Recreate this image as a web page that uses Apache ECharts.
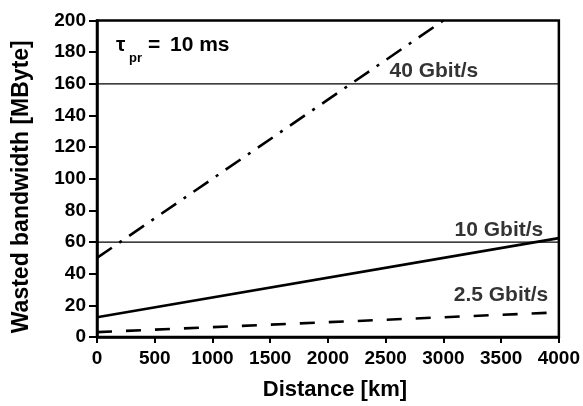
<!DOCTYPE html>
<html>
<head>
<meta charset="utf-8">
<script src="https://cdn.jsdelivr.net/npm/echarts@6/dist/echarts.min.js"></script>
<style>
  html, body { margin: 0; padding: 0; background: #fff; }
  #chart { width: 583px; height: 406px; }
</style>
</head>
<body>
<div id="chart"></div>
<script>
// Wasted bandwidth vs. link distance for three line rates (tau_pr = 10 ms)
const xTicks = [0, 500, 1000, 1500, 2000, 2500, 3000, 3500, 4000];
const yTicks = [0, 20, 40, 60, 80, 100, 120, 140, 160, 180, 200];

const distance40 = [0, 1000, 2000, 3000];
const wasted40 = [50, 100, 150, 200];

const distance10 = [0, 4000];
const wasted10 = [12.5, 62.5];

const distance25 = [0, 4000];
const wasted25 = [3.1, 15.6];

// horizontal reference levels
const refLevels = [60, 160];

// rate labels: [distance, MByte, text, alignment]
const rateLabels = [
  [2533, 161.5, '40 Gbit/s', 'left'],
  [3865, 61, '10 Gbit/s', 'right'],
  [3908, 19.6, '2.5 Gbit/s', 'right']
];

const FONT = '"Liberation Sans", Arial, sans-serif';

const pairs = (xs, ys) => xs.map((x, i) => [x, ys[i]]);

const chart = echarts.init(document.getElementById('chart'), null, { renderer: 'canvas' });

const refSeries = refLevels.map(v => ({
  type: 'line',
  data: [[xTicks[0], v], [xTicks[xTicks.length - 1], v]],
  symbol: 'none',
  silent: true,
  lineStyle: { color: '#000', width: 1.2 },
  z: 2
}));

chart.setOption({
  animation: false,
  backgroundColor: '#fff',
  grid: {
    left: 97, right: 23, top: 20.5, bottom: 64,
    show: true, borderColor: '#000', borderWidth: 2.5, backgroundColor: 'transparent'
  },
  xAxis: {
    type: 'value',
    min: xTicks[0], max: xTicks[xTicks.length - 1], interval: 500,
    name: 'Distance [km]',
    nameLocation: 'middle',
    nameGap: 42,
    nameTextStyle: { fontFamily: FONT, fontWeight: 'bold', fontSize: 22, color: '#000', padding: [0, 0, 0, 14] },
    axisLine: { show: true, lineStyle: { color: '#000', width: 2.5 } },
    axisTick: { show: true, inside: false, length: 6, lineStyle: { color: '#000', width: 2 } },
    axisLabel: {
      margin: 12, fontFamily: FONT, fontWeight: 'bold', fontSize: 19, color: '#000',
      formatter: v => String(v)
    },
    splitLine: { show: false }
  },
  yAxis: {
    type: 'value',
    min: yTicks[0], max: yTicks[yTicks.length - 1], interval: 20,
    name: 'Wasted bandwidth [MByte]',
    nameLocation: 'middle',
    nameRotate: 90,
    nameGap: 64,
    nameTextStyle: { fontFamily: FONT, fontWeight: 'bold', fontSize: 23, color: '#000', padding: [0, 16, 0, 0] },
    axisLine: { show: true, lineStyle: { color: '#000', width: 2.5 } },
    axisTick: { show: true, inside: false, length: 8, lineStyle: { color: '#000', width: 2 } },
    axisLabel: {
      margin: 11, fontFamily: FONT, fontWeight: 'bold', fontSize: 19, color: '#000',
      formatter: v => String(v)
    },
    splitLine: { show: false }
  },
  series: [
    ...refSeries,
    {
      name: '40 Gbit/s',
      type: 'line',
      data: pairs(distance40, wasted40),
      symbol: 'none',
      lineStyle: { color: '#000', width: 2.6, type: [18, 9, 3, 9] },
      z: 3
    },
    {
      name: '10 Gbit/s',
      type: 'line',
      data: pairs(distance10, wasted10),
      symbol: 'none',
      lineStyle: { color: '#000', width: 2.6 },
      z: 3
    },
    {
      name: '2.5 Gbit/s',
      type: 'line',
      data: pairs(distance25, wasted25),
      symbol: 'none',
      lineStyle: { color: '#000', width: 2.6, type: [15, 14] },
      z: 3
    },
    {
      type: 'scatter',
      symbolSize: 0,
      silent: true,
      data: rateLabels.map(r => ({
        value: [r[0], r[1]],
        label: {
          show: true,
          formatter: r[2],
          position: [0, 0],
          align: r[3],
          verticalAlign: 'bottom',
          fontFamily: FONT, fontWeight: 'bold', fontSize: 21, color: '#000'
        }
      })),
      z: 4
    }
  ],
  graphic: [
    { type: 'text', left: 116, top: 35, style: { text: 'τ', fontFamily: FONT, fontWeight: 'bold', fontSize: 21, fill: '#000' } },
    { type: 'text', left: 129, top: 52, style: { text: 'pr', fontFamily: FONT, fontWeight: 'bold', fontSize: 13, fill: '#000' } },
    { type: 'text', left: 148, top: 35, style: { text: '=', fontFamily: FONT, fontWeight: 'bold', fontSize: 21, fill: '#000' } },
    { type: 'text', left: 170, top: 35, style: { text: '10 ms', fontFamily: FONT, fontWeight: 'bold', fontSize: 21, fill: '#000' } }
  ]
});
</script>
</body>
</html>
